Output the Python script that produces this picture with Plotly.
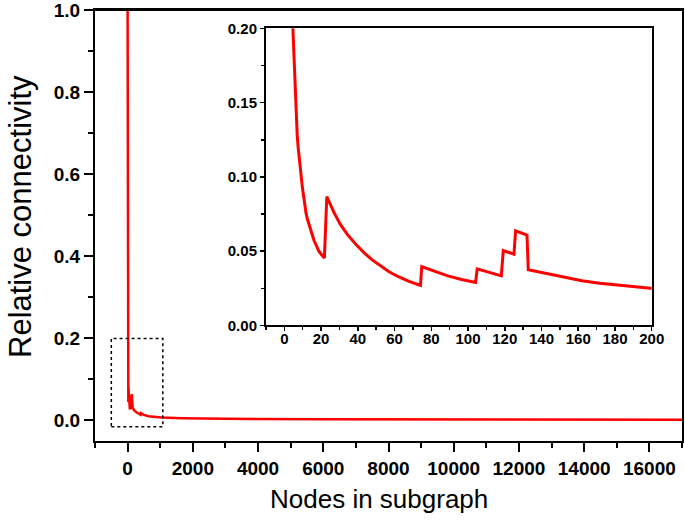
import plotly.graph_objects as go

# ---- data ----
nodes = [0, 1, 2, 3, 4.5, 5, 5.5, 6, 6.5, 7, 7.5, 8, 8.5, 9.1, 9.8, 10.5, 11, 11.8, 12.7, 13.5, 14.4, 15.4, 16.2, 17, 18.7, 20.2, 21.8,
         23.1, 25, 27.2, 30.5, 34.5, 39, 43.6, 48, 52.7, 57, 61.8, 67.5, 74.1,
         74.8, 82, 89, 96.5, 104.1,
         105, 111.5, 118.1,
         119.2, 125.0,
         125.9, 132.1,
         132.8, 141.7, 153.5, 162, 171.7, 185, 199.3,
         250, 300, 380, 400, 410, 500, 640, 1050, 1660, 3000, 6000, 9000, 12000, 17000]
connectivity = [1.0, 0.5, 0.333, 0.25, 0.2, 0.183, 0.165, 0.150, 0.139, 0.128, 0.120, 0.113, 0.106, 0.100, 0.093, 0.087, 0.082, 0.0756, 0.071, 0.0675, 0.0635, 0.0599, 0.057, 0.055, 0.0502, 0.0478, 0.0453,
                0.0868, 0.081, 0.0756, 0.068, 0.0610, 0.0545, 0.0487, 0.0440, 0.0397, 0.0362, 0.0330, 0.0298, 0.0269,
                0.0397, 0.0364, 0.0334, 0.0310, 0.0289,
                0.0381, 0.0356, 0.0334,
                0.0504, 0.0480,
                0.0637, 0.0608,
                0.0375, 0.0352, 0.0319, 0.0301, 0.0285, 0.0267, 0.0251,
                0.021, 0.018, 0.0145, 0.0138, 0.0175, 0.0135, 0.0105, 0.0073, 0.0057, 0.0040, 0.0030, 0.0024, 0.0019, 0.0015]

main_x_ticks = [0, 2000, 4000, 6000, 8000, 10000, 12000, 14000, 16000]
main_x_labels = ["0", "2000", "4000", "6000", "8000", "10000", "12000", "14000", "16000"]
main_y_ticks = [0.0, 0.2, 0.4, 0.6, 0.8, 1.0]
main_y_labels = ["0.0", "0.2", "0.4", "0.6", "0.8", "1.0"]
inset_x_ticks = [0, 20, 40, 60, 80, 100, 120, 140, 160, 180, 200]
inset_x_labels = ["0", "20", "40", "60", "80", "100", "120", "140", "160", "180", "200"]
inset_y_ticks = [0.0, 0.05, 0.10, 0.15, 0.20]
inset_y_labels = ["0.00", "0.05", "0.10", "0.15", "0.20"]

FONT = "Liberation Sans, Arial, sans-serif"
RED = "#ff0000"


def bold(labels):
    return ["<b>%s</b>" % t for t in labels]


fig = go.Figure()
fig.add_trace(go.Scatter(x=nodes, y=connectivity, mode="lines",
                         line=dict(color=RED, width=2.5), xaxis="x", yaxis="y",
                         showlegend=False, hoverinfo="skip"))
fig.add_trace(go.Scatter(x=nodes, y=connectivity, mode="lines",
                         line=dict(color=RED, width=3), xaxis="x2", yaxis="y2",
                         showlegend=False, hoverinfo="skip"))

axis_common = dict(showgrid=False, zeroline=False, showline=True, linecolor="black",
                   linewidth=2, mirror=True, ticks="outside", tickcolor="black",
                   automargin=False, ticklabeloverflow="allow")

fig.update_layout(
    width=685, height=522, autosize=False,
    margin=dict(l=95, r=3, t=10, b=81),
    paper_bgcolor="white", plot_bgcolor="white",
    font=dict(family=FONT, color="black"),
    xaxis=dict(domain=[0, 1], range=[-1000, 17000], anchor="y",
               tickmode="array", tickvals=main_x_ticks, ticktext=bold(main_x_labels),
               ticklen=9, tickwidth=2,
               tickfont=dict(family=FONT, size=19, color="black"),
               minor=dict(tickmode="linear", tick0=0, dtick=1000, ticks="outside",
                          ticklen=5, tickwidth=2, tickcolor="black"),
               **axis_common),
    yaxis=dict(domain=[0, 1], range=[-0.05, 1.0], anchor="x",
               tickmode="array", tickvals=main_y_ticks, ticktext=bold(main_y_labels),
               ticklen=9, tickwidth=2,
               tickfont=dict(family=FONT, size=19, color="black"),
               minor=dict(tickmode="linear", tick0=0, dtick=0.1, ticks="outside",
                          ticklen=5, tickwidth=2, tickcolor="black"),
               **axis_common),
    xaxis2=dict(domain=[0.2913, 0.9484], range=[-10, 200], anchor="y2",
                tickmode="array", tickvals=inset_x_ticks, ticktext=bold(inset_x_labels),
                ticklen=4, tickwidth=1.5, ticklabelstandoff=-5,
                tickfont=dict(family=FONT, size=15, color="black"),
                minor=dict(tickmode="linear", tick0=0, dtick=10, ticks="outside",
                           ticklen=3, tickwidth=1.5, tickcolor="black"),
                **axis_common),
    yaxis2=dict(domain=[0.268, 0.9575], range=[0, 0.2], anchor="x2",
                tickmode="array", tickvals=inset_y_ticks, ticktext=bold(inset_y_labels),
                ticklen=4, tickwidth=1.5,
                tickfont=dict(family=FONT, size=15, color="black"),
                minor=dict(tickmode="linear", tick0=0, dtick=0.025, ticks="outside",
                           ticklen=3, tickwidth=1.5, tickcolor="black"),
                **axis_common),
    shapes=[
        dict(type="rect", xref="x", yref="y", x0=-500, x1=1080, y0=-0.015, y1=0.2,
             line=dict(color="black", width=1.5, dash="dot"), fillcolor="rgba(0,0,0,0)",
             layer="above"),
        # top frame of the main panel
        dict(type="line", xref="paper", yref="paper", x0=0, x1=1, y0=1, y1=1,
             line=dict(color="black", width=2), layer="above"),
    ],
    annotations=[
        dict(text="Relative connectivity", xref="paper", yref="paper",
             x=-0.1278, y=0.522, xanchor="center", yanchor="middle", textangle=-90,
             showarrow=False, font=dict(family=FONT, size=31, color="black")),
        dict(text="Nodes in subgraph", xref="paper", yref="paper",
             x=0.4838, y=-0.1346, xanchor="center", yanchor="middle",
             showarrow=False, font=dict(family=FONT, size=26, color="black")),
    ],
)

fig.write_html(
    "out.html",
    config={"displayModeBar": False, "responsive": False, "staticPlot": True},
    post_script=(
        "document.documentElement.style.overflow='hidden';"
        "document.body.style.margin='0';document.body.style.padding='0';"
        "document.body.style.overflow='hidden';"
    ),
)
